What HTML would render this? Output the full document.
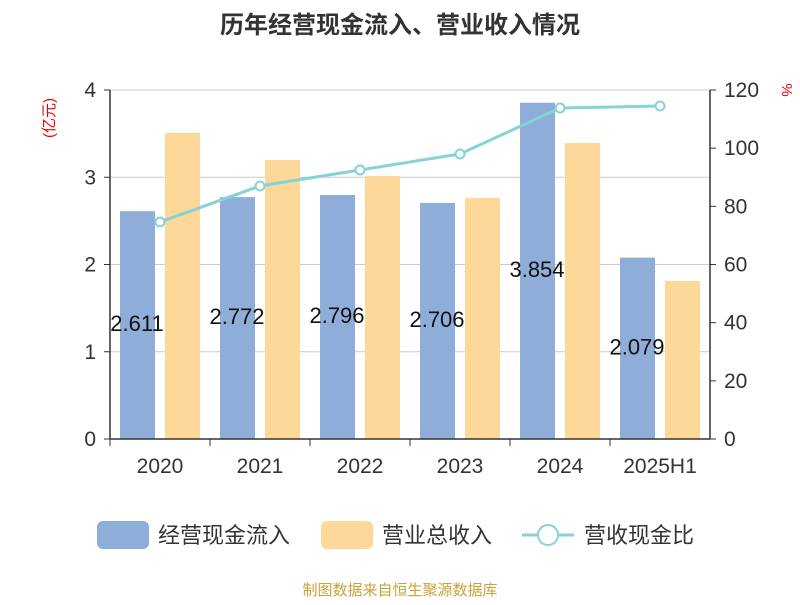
<!DOCTYPE html>
<html><head><meta charset="utf-8">
<style>
body{margin:0;background:#fff;font-family:"Liberation Sans","Noto Sans CJK SC",sans-serif;}
svg text{font-family:"Liberation Sans","Noto Sans CJK SC",sans-serif;}
</style></head>
<body>
<svg id="chart" width="800" height="600" xmlns="http://www.w3.org/2000/svg">
<text x="400" y="33" text-anchor="middle" font-size="24" font-weight="bold" fill="#333">历年经营现金流入、营业收入情况</text>
<text transform="translate(54,118) rotate(-90)" text-anchor="middle" font-size="15" fill="#e00">(亿元)</text>
<text transform="translate(782,90) rotate(90)" text-anchor="middle" font-size="15" fill="#e00">%</text>
<g id="grid"></g><g id="bars"></g><g id="line"></g><g id="axes"></g>
<g>
<rect x="97" y="521" width="52" height="28" rx="6" fill="#8eadd9"/>
<text x="158" y="543" font-size="22" fill="#333">经营现金流入</text>
<rect x="321" y="521" width="52" height="28" rx="6" fill="#fed898"/>
<text x="382" y="543" font-size="22" fill="#333">营业总收入</text>
<line x1="522" y1="535" x2="574" y2="535" stroke="#85d3d8" stroke-width="3"/>
<circle cx="548" cy="535" r="10" fill="#fff" stroke="#85d3d8" stroke-width="2"/>
<text x="584" y="543" font-size="22" fill="#333">营收现金比</text>
</g>
<text x="400" y="595" text-anchor="middle" font-size="15" fill="#c9a23a">制图数据来自恒生聚源数据库</text>
</svg>
<script>
const categories=["2020","2021","2022","2023","2024","2025H1"];
const cashInflow=[2.611,2.772,2.796,2.706,3.854,2.079];
const revenue=[3.507,3.198,3.014,2.762,3.392,1.811];
const ratio=[74.6,87.0,92.5,98.0,113.8,114.5];
const leftTicks=[0,1,2,3,4];
const rightTicks=[0,20,40,60,80,100,120];
const NS="http://www.w3.org/2000/svg";
const x0=110,x1=710,y0=439,y1=90;
const yL=v=>y0-(v/4)*(y0-y1);
const yR=v=>y0-(v/120)*(y0-y1);
const band=(x1-x0)/categories.length;
const xc=i=>x0+band*(i+0.5);
function mk(tag,attrs,parent,txt){const e=document.createElementNS(NS,tag);for(const k in attrs)e.setAttribute(k,attrs[k]);if(txt!==undefined)e.textContent=txt;document.getElementById(parent).appendChild(e);return e;}
leftTicks.forEach(t=>{
 if(t>0){const g=mk('line',{x1:x0,x2:x1,y1:yL(t),y2:yL(t),stroke:'#ccc','stroke-width':1},'grid');
 
 }
 const l=mk('text',{x:x0-14,y:yL(t)+7,'text-anchor':'end','font-size':21,fill:'#333'},'axes',t);
 
 
 const tk=mk('line',{x1:x0-6,x2:x0,y1:yL(t),y2:yL(t),stroke:'#333'},'axes');
 
 
});
rightTicks.forEach(t=>{
 const l=mk('text',{x:x1+14,y:yR(t)+7,'font-size':21,fill:'#333'},'axes',t);
 
 
 const tk=mk('line',{x1:x1,x2:x1+6,y1:yR(t),y2:yR(t),stroke:'#333'},'axes');
 
 
});
[['y-axis-left',x0,x0,y1,y0],['y-axis-right',x1,x1,y1,y0],['x-axis',x0,x1,y0,y0]].forEach(a=>{
 const l=mk('line',{x1:a[1],x2:a[2],y1:a[3],y2:a[4],stroke:'#333','stroke-width':1.5},'axes');
 
 
});
categories.forEach((c,i)=>{
 const tk=mk('line',{x1:x0+band*i,x2:x0+band*i,y1:y0,y2:y0+7,stroke:'#333'},'axes');
 
 
 const l=mk('text',{x:xc(i),y:y0+34,'text-anchor':'middle','font-size':21,fill:'#333'},'axes',c);
 
 
 const b=mk('rect',{x:xc(i)-40,y:yL(cashInflow[i]),width:35,height:y0-yL(cashInflow[i]),fill:'#8eadd9'},'bars');
 
 
 const r=mk('rect',{x:xc(i)+5,y:yL(revenue[i]),width:35,height:y0-yL(revenue[i]),fill:'#fed898'},'bars');
 
 
 const v=mk('text',{x:xc(i)-23,y:(y0+yL(cashInflow[i]))/2+6,'text-anchor':'middle','font-size':22,fill:'#111'},'bars',cashInflow[i].toFixed(3));
 
 
});
const pl=mk('polyline',{points:ratio.map((v,i)=>xc(i)+','+yR(v)).join(' '),fill:'none',stroke:'#85d3d8','stroke-width':3},'line');


ratio.forEach((v,i)=>{
 const p=mk('circle',{cx:xc(i),cy:yR(v),r:4.5,fill:'#fff',stroke:'#85d3d8','stroke-width':2},'line');
 
 
});
</script>
</body></html>
